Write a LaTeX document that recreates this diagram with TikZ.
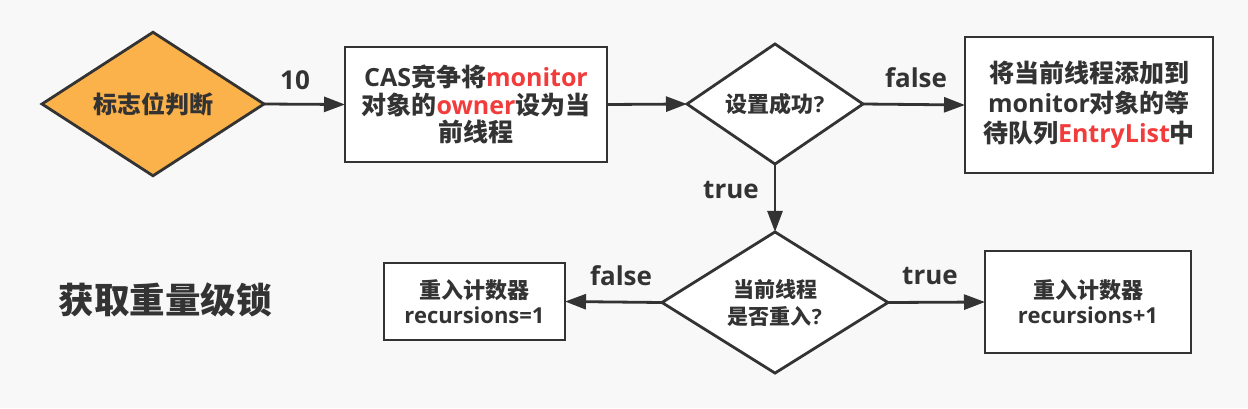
\documentclass[tikz,border=0pt]{standalone}
\usepackage{fontspec}
\setmainfont{Open Sans}
\newfontfamily\cjk{Noto Sans CJK SC}
\usetikzlibrary{shapes.geometric,arrows.meta}
\definecolor{ink}{HTML}{333333}
\definecolor{accent}{HTML}{F23C3C}
\definecolor{orangefill}{HTML}{FCB24A}
\definecolor{bgc}{HTML}{F8F8F8}
\newcommand{\zh}[1]{{\cjk #1}}
\newcommand{\rd}[1]{\textcolor{accent}{#1}}
\begin{document}
\begin{tikzpicture}[x=1pt,y=-1pt,
  every node/.style={text=ink,font=\bfseries},
  boxnode/.style={draw=ink,line width=2.8pt,fill=white,rectangle,inner sep=0pt,outer sep=0pt,align=center},
  dianode/.style={draw=ink,line width=2.8pt,fill=white,diamond,inner sep=0pt,outer sep=0pt,align=center},
  conn/.style={draw=ink,line width=2.8pt,-{Triangle[length=21pt,width=15pt]}},
  lbl/.style={font=\bfseries\fontsize{26}{30}\selectfont}
]
\fill[bgc] (0,0) rectangle (1248,408);
\useasboundingbox (0,0) rectangle (1248,408);

\node[dianode,fill=orangefill,minimum width=222pt,minimum height=128pt,font=\bfseries\fontsize{24}{28}\selectfont] (d1) at (153,104) {\zh{标志位判断}};

\node[boxnode,minimum width=262pt,minimum height=115pt,font=\bfseries\fontsize{25}{27.5}\selectfont] (b1) at (476,104.5)
  {CAS\zh{竞争将}\rd{monitor}\\\zh{对象的}\rd{owner}\zh{设为当}\\\zh{前线程}};

\node[dianode,minimum width=176pt,minimum height=118pt,font=\bfseries\fontsize{22}{26}\selectfont] (d2) at (775,104) {\zh{设置成功}?};

\node[boxnode,minimum width=248pt,minimum height=136pt,font=\bfseries\fontsize{25}{30}\selectfont] (b2) at (1089,105)
  {\zh{将当前线程添加到}\\monitor\zh{对象的等}\\\zh{待队列}\rd{EntryList}\zh{中}};

\node[dianode,minimum width=226pt,minimum height=139pt,font=\bfseries\fontsize{21}{27}\selectfont] (d3) at (775,302.5) {\zh{当前线程}\\\zh{是否重入}?};

\node[boxnode,minimum width=181pt,minimum height=77pt,font=\bfseries\fontsize{22}{25}\selectfont] (b3) at (474.5,301.5) {\zh{重入计数器}\\recursions=1};

\node[boxnode,minimum width=206pt,minimum height=102pt,font=\bfseries\fontsize{22}{25}\selectfont] (b4) at (1088,302) {\zh{重入计数器}\\recursions+1};

\node[font=\bfseries\fontsize{35.5}{40}\selectfont] (title) at (165,300) {\zh{获取重量级锁}};

\draw[conn] (d1.east) -- (b1.west);
\draw[conn] (b1.east) -- (d2.west);
\draw[conn] (d2.east) -- (b2.west);
\draw[conn] (d2.south) -- (d3.north);
\draw[conn] (d3.west) -- (b3.east);
\draw[conn] (d3.east) -- (b4.west);

\node[lbl] (l10) at (295,80) {10};
\node[lbl] (lf1) at (916,78) {false};
\node[lbl] (lt1) at (731,190) {true};
\node[lbl] (lf2) at (621,276) {false};
\node[lbl] (lt2) at (930,276) {true};
\end{tikzpicture}
\end{document}
